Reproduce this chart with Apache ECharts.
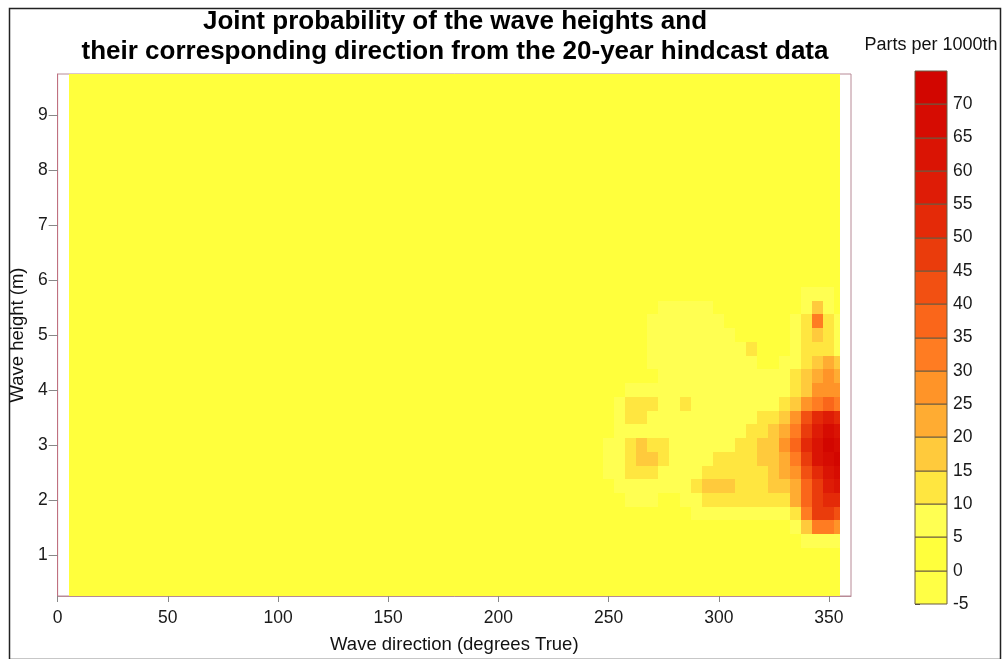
<!DOCTYPE html>
<html><head><meta charset="utf-8">
<script src="https://cdn.jsdelivr.net/npm/echarts@6/dist/echarts.min.js"></script>
<style>html,body{margin:0;padding:0;background:#fff}#c{width:1003px;height:659px}</style>
</head><body><div id="c"></div>
<script>
// ---- data ----
const directions = [250,255,260,265,270,275,280,285,290,295,300,305,310,315,320,325,330,335,340,345,350,355];
const heights = [6.0,5.75,5.5,5.25,5.0,4.75,4.5,4.25,4.0,3.75,3.5,3.25,3.0,2.75,2.5,2.25,2.0,1.75,1.5,1.25];
const probability = [
  [2,2,2,2,2,2,2,2,2,2,2,2,2,2,2,2,2,2,3,4,3,2],
  [2,2,2,2,2,2,2,2,2,2,2,2,2,2,2,2,2,3,6,8,6,3],
  [2,2,2,2,2,6,6,6,6,6,2,2,2,2,2,2,2,4,9,16,9,4],
  [2,2,2,2,6,7,7,7,7,7,6,2,2,2,2,2,2,6,13,32,12,6],
  [2,2,2,2,6,7,7,7,7,7,7,6,2,2,2,2,3,6,11,18,12,8],
  [2,2,2,2,6,7,7,7,7,7,7,6,6,11,3,3,4,6,10,13,12,8],
  [2,2,2,2,6,7,7,7,7,7,7,6,6,6,3,4,5,8,14,19,21,18],
  [2,2,2,2,2,6,6,6,6,6,6,6,6,5,5,6,7,10,17,23,26,24],
  [2,2,6,6,6,6,6,6,6,6,6,6,6,6,6,7,8,12,19,25,28,27],
  [2,6,11,13,11,6,6,12,6,6,6,6,6,6,7,8,11,16,26,33,36,34],
  [2,6,10,12,9,6,6,8,6,6,6,6,7,8,10,13,17,26,42,50,55,52],
  [2,6,8,9,8,6,6,6,6,6,6,6,8,11,14,18,23,34,48,58,66,62],
  [6,8,12,16,14,10,7,6,6,6,7,8,10,12,16,19,25,36,50,62,72,68],
  [6,9,14,18,16,11,7,6,6,8,10,11,11,12,15,18,23,34,48,60,68,70],
  [6,8,11,13,12,9,6,6,8,12,14,13,11,11,14,16,20,28,42,52,60,66],
  [2,6,7,8,7,6,6,6,11,16,18,17,11,11,13,17,16,23,38,48,56,62],
  [2,2,6,6,6,2,2,6,9,12,13,12,10,11,12,12,13,20,36,46,50,52],
  [2,2,2,2,2,2,2,2,6,7,7,6,6,6,7,7,8,12,34,46,46,42],
  [2,2,2,2,2,2,2,2,2,2,2,2,2,2,2,2,3,6,18,30,32,26],
  [2,2,2,2,2,2,2,2,2,2,2,2,2,2,2,2,2,3,5,7,7,5]
];
// whole hindcast field extent [dirMin, dirMax, hMin, hMax] and its background level
const fieldExtent = [5, 355, 0.25, 9.75];
const backgroundLevel = 2;
const colorLevels = [-5,0,5,10,15,20,25,30,35,40,45,50,55,60,65,70,75];
const bandColors = ['#FFFF45','#FFFF3C','#FFFF52','#FFE640','#FFCA3C','#FFAC32','#FF9428','#FF7C22',
                    '#FA661A','#F25012','#EA3C0C','#E42A08','#DE1C06','#DA1404','#D60C02','#D20600'];
const xTickValues = [0,50,100,150,200,250,300,350];
const yTickValues = [1,2,3,4,5,6,7,8,9];
const barTickValues = [-5,0,5,10,15,20,25,30,35,40,45,50,55,60,65,70];

// ---- build ----
const dx = directions[1] - directions[0];
const dy = heights[0] - heights[1];
const fieldData = [];
heights.forEach((h, i) => directions.forEach((d, j) => fieldData.push([probability[i][j], d, h])));
const bgData = [[backgroundLevel, fieldExtent[0], fieldExtent[1], fieldExtent[2], fieldExtent[3]]];
const barData = [];
for (let i = 0; i < colorLevels.length - 1; i++) {
  barData.push([(colorLevels[i] + colorLevels[i+1]) / 2, colorLevels[i], colorLevels[i+1]]);
}
const pieces = bandColors.map((c, i) => ({gte: colorLevels[i], lt: colorLevels[i+1], color: c}));

function rectFrom(api, x0, y0, x1, y1, fill, stroke) {
  const a = api.coord([x0, y1]), b = api.coord([x1, y0]);
  const l = Math.round(a[0]), t = Math.round(a[1]), r = Math.round(b[0]), bt = Math.round(b[1]);
  const style = {fill: fill};
  if (stroke) { style.stroke = stroke; style.lineWidth = 1; }
  return {type: 'rect', shape: {x: l, y: t, width: r - l, height: bt - t}, style: style};
}

const FONT = 'Liberation Sans, Arial, sans-serif';
const chart = echarts.init(document.getElementById('c'), null, {renderer: 'canvas'});
chart.setOption({
  animation: false,
  backgroundColor: '#fff',
  title: [
    {text: 'Joint probability of the wave heights and\ntheir corresponding direction from the 20-year hindcast data',
     left: 455, top: 7, textAlign: 'center', padding: 0,
     textStyle: {fontFamily: FONT, fontSize: 26, fontWeight: 'bold', color: '#000', lineHeight: 30}},
    {text: 'Parts per 1000th', left: 931, top: 36, textAlign: 'center', padding: 0,
     textStyle: {fontFamily: FONT, fontSize: 18, fontWeight: 'normal', color: '#111'}}
  ],
  graphic: [{type: 'rect', left: 7, top: 6, silent: true, z: 100,
             shape: {width: 991, height: 651}, style: {fill: 'none', stroke: '#222', lineWidth: 1.5}}],
  visualMap: {type: 'piecewise', show: false, dimension: 0, seriesIndex: [0, 1, 2], pieces: pieces},
  grid: [
    {left: 57, top: 74, width: 794, height: 525, show: true, borderColor: '#b88a96', borderWidth: 1, backgroundColor: 'transparent'},
    {left: 915, top: 71, width: 32, height: 533, show: false}
  ],
  xAxis: [
    {type: 'value', gridIndex: 0, min: 0, max: 360,
     name: 'Wave direction (degrees True)', nameLocation: 'middle', nameGap: 39,
     nameTextStyle: {fontFamily: FONT, fontSize: 18.5, color: '#111'},
     axisLine: {show: true, lineStyle: {color: '#b88a96', width: 1}},
     axisTick: {show: true, length: 6, customValues: xTickValues, lineStyle: {color: '#888'}},
     axisLabel: {customValues: xTickValues, fontFamily: FONT, fontSize: 17.5, color: '#1a1a1a', margin: 13},
     splitLine: {show: false}},
    {type: 'value', gridIndex: 1, min: 0, max: 1, show: false}
  ],
  yAxis: [
    {type: 'value', gridIndex: 0, min: 0.25, max: 9.75,
     name: 'Wave height (m)', nameLocation: 'middle', nameGap: 29, nameRotate: 90,
     nameTextStyle: {fontFamily: FONT, fontSize: 18.5, color: '#111'},
     axisLine: {show: true, lineStyle: {color: '#c07080', width: 1}},
     axisTick: {show: true, length: 9, customValues: yTickValues, lineStyle: {color: '#888'}},
     axisLabel: {customValues: yTickValues, fontFamily: FONT, fontSize: 17.5, color: '#1a1a1a', margin: 10},
     splitLine: {show: false}},
    {type: 'value', gridIndex: 1, min: -5, max: 75, position: 'right',
     axisLine: {show: false},
     axisTick: {show: true, length: 5, customValues: barTickValues, lineStyle: {color: '#444'}},
     axisLabel: {customValues: barTickValues, fontFamily: FONT, fontSize: 17.5, color: '#1a1a1a', margin: 6},
     splitLine: {show: false}}
  ],
  series: [
    {type: 'custom', name: 'background', xAxisIndex: 0, yAxisIndex: 0, silent: true, z: 1,
     encode: {x: [1, 2], y: [3, 4]}, data: bgData,
     renderItem: (p, api) => rectFrom(api, api.value(1), api.value(3), api.value(2), api.value(4), api.visual('color'))},
    {type: 'custom', name: 'probability', xAxisIndex: 0, yAxisIndex: 0, silent: true, z: 2,
     encode: {x: 1, y: 2}, data: fieldData,
     renderItem: (p, api) => {
       const d = api.value(1), h = api.value(2);
       const x0 = Math.max(d - dx / 2, fieldExtent[0]), x1 = Math.min(d + dx / 2, fieldExtent[1]);
       return rectFrom(api, x0, h - dy / 2, x1, h + dy / 2, api.visual('color'));
     }},
    {type: 'custom', name: 'colorbar', xAxisIndex: 1, yAxisIndex: 1, silent: true, z: 2,
     encode: {y: [1, 2]}, data: barData,
     renderItem: (p, api) => rectFrom(api, 0, api.value(1), 1, api.value(2), api.visual('color'), '#6a5a40')}
  ]
});
</script></body></html>
